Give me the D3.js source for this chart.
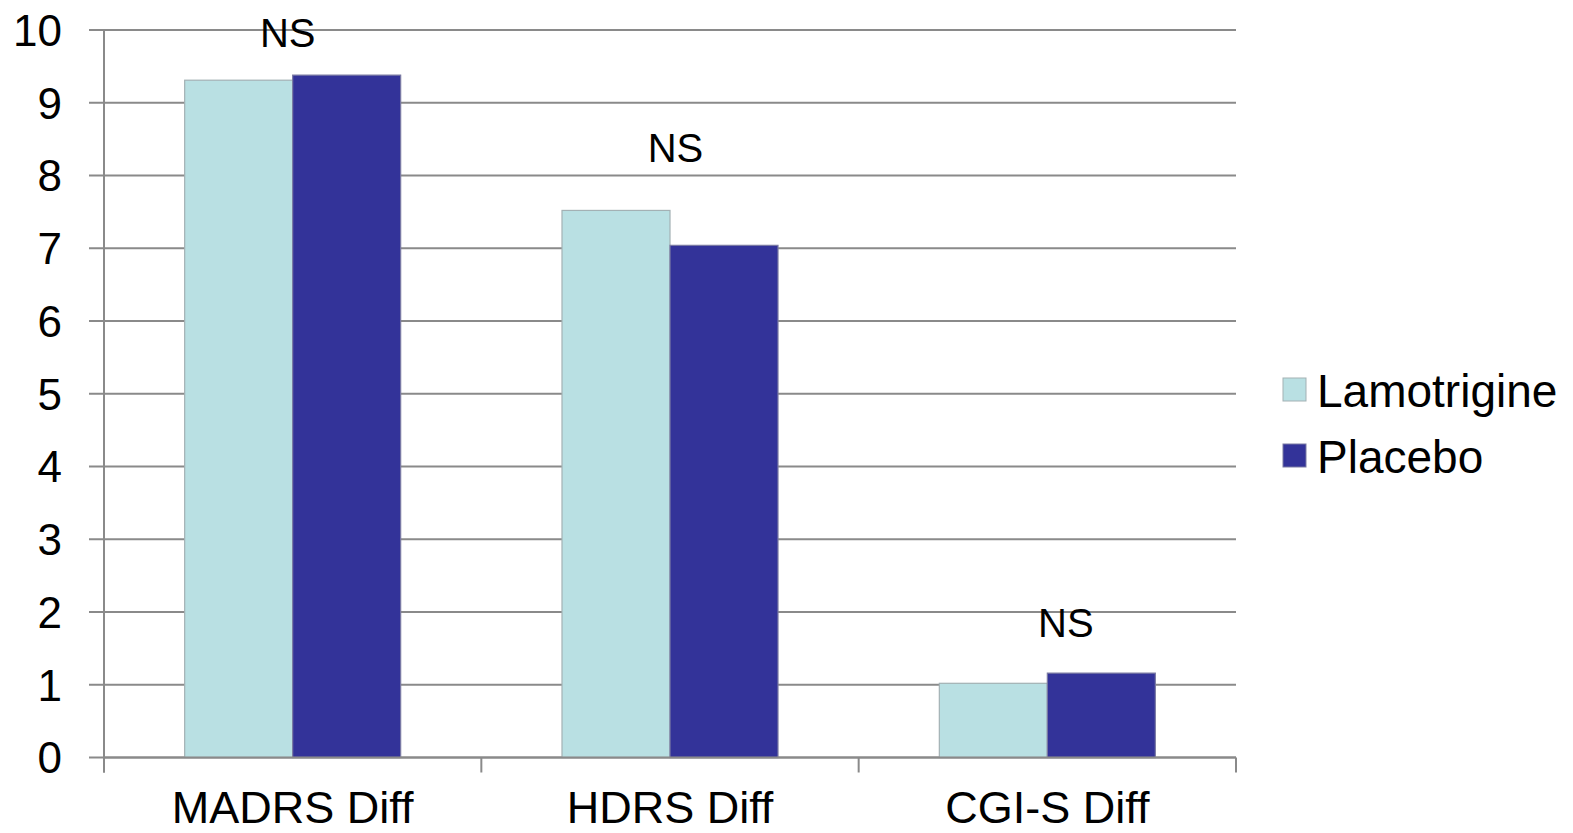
<!DOCTYPE html>
<html><head><meta charset="utf-8">
<script src="https://cdn.jsdelivr.net/npm/d3@7"></script>
<style>html,body{margin:0;padding:0;background:#fff;}svg{display:block;font-family:Arial,"Liberation Sans",sans-serif;}</style>
</head><body><svg id="c" width="1573" height="833"></svg>
<script>
const categories = ["MADRS Diff", "HDRS Diff", "CGI-S Diff"];
const seriesNames = ["Lamotrigine", "Placebo"];
const lamotrigine = [9.31, 7.52, 1.02];
const placebo = [9.38, 7.04, 1.16];
const nsLabels = ["NS", "NS", "NS"];
const nsLevels = [9.77, 8.19, 1.66];
const yTicks = [0,1,2,3,4,5,6,7,8,9,10];
const colors = ["#b9e0e3", "#333399"];
const strokes = ["#a3b1b4", "#7a7aa3"];

const svg = d3.select("#c");
const L = 104, R = 1236, T = 30, B = 757.5;
const x = d3.scaleBand().domain(categories).range([L, R]).paddingInner(0).paddingOuter(0);
const y = d3.scaleLinear().domain([0, 10]).range([B, T]);
const groupW = 216;
const xs = d3.scaleBand().domain(seriesNames).range([0, groupW]).padding(0);
const series = [lamotrigine, placebo];
const grid = "#8a8a8a";

svg.append("g").selectAll("line").data(yTicks).join("line")
  .attr("x1", L - 15).attr("x2", R)
  .attr("y1", d => y(d)).attr("y2", d => y(d))
  .attr("stroke", grid).attr("stroke-width", 2);

svg.append("g").selectAll("text").data(yTicks).join("text")
  .attr("x", 62).attr("y", d => y(d)).attr("dy", "0.36em")
  .attr("text-anchor", "end").attr("font-size", 44).attr("fill", "#000")
  .text(d => d);

seriesNames.forEach((s, si) => {
  svg.append("g").selectAll("rect").data(categories).join("rect")
    .attr("x", c => x(c) + (x.bandwidth() - groupW) / 2 + xs(s))
    .attr("width", xs.bandwidth())
    .attr("y", (c, i) => y(series[si][i]))
    .attr("height", (c, i) => y(0) - y(series[si][i]))
    .attr("fill", colors[si]).attr("stroke", strokes[si]).attr("stroke-width", 1.2);
});

svg.append("line").attr("x1", L).attr("x2", L).attr("y1", T).attr("y2", B + 15).attr("stroke", grid).attr("stroke-width", 2);
svg.append("line").attr("x1", L).attr("x2", R).attr("y1", B).attr("y2", B).attr("stroke", grid).attr("stroke-width", 2);
const catTicks = categories.map(c => x(c)).concat([R]);
svg.append("g").selectAll("line").data(catTicks).join("line")
  .attr("x1", d => d).attr("x2", d => d).attr("y1", B).attr("y2", B + 15)
  .attr("stroke", grid).attr("stroke-width", 2);

svg.append("g").selectAll("text").data(categories).join("text")
  .attr("x", c => x(c) + x.bandwidth() / 2).attr("y", 823)
  .attr("text-anchor", "middle").attr("font-size", 45).attr("fill", "#000")
  .text(c => c);

const nsOffsets = [-5, 5.5, 18.5];
svg.append("g").selectAll("text").data(categories).join("text")
  .attr("x", (c, i) => x(c) + x.bandwidth() / 2 + nsOffsets[i])
  .attr("y", (c, i) => y(nsLevels[i]))
  .attr("text-anchor", "middle").attr("font-size", 40).attr("fill", "#000")
  .text((c, i) => nsLabels[i]);

const lg = svg.append("g").attr("transform", "translate(1283,378)");
seriesNames.forEach((s, i) => {
  const g = lg.append("g").attr("transform", `translate(0,${i * 66})`);
  g.append("rect").attr("width", 23).attr("height", 23).attr("fill", colors[i]).attr("stroke", strokes[i]).attr("stroke-width", 1);
  g.append("text").attr("x", 34).attr("y", 28.5).attr("font-size", 46).attr("fill", "#000").text(s);
});
</script></body></html>
